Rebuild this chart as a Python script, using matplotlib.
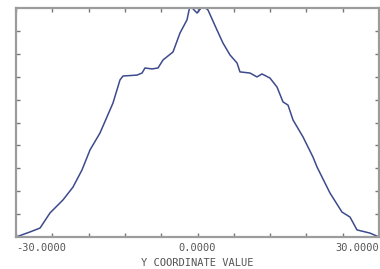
import matplotlib
matplotlib.use("Agg")
import matplotlib.pyplot as plt
import numpy as np

# Data (x: Y coordinate value, y: normalised intensity)
x_vals = [-30.0, -27.69, -26.03, -24.38, -22.23, -20.58, -19.09, -17.77, -16.12, -13.97,
          -12.81, -12.31, -10.0, -9.17, -8.68, -7.52, -6.53, -5.70, -4.05, -2.89,
          -1.74, -1.24, -0.08, 0.91, 1.74, 3.22, 4.21, 5.37, 6.53, 7.02,
          8.68, 9.83, 10.66, 11.98, 13.14, 14.13, 14.96, 15.79, 17.44, 19.09,
          19.75, 21.90, 23.88, 25.21, 26.36, 28.51, 30.0]
y_vals = [0.0, 0.022, 0.039, 0.105, 0.162, 0.218, 0.293, 0.380, 0.454, 0.585,
          0.686, 0.703, 0.707, 0.716, 0.738, 0.734, 0.738, 0.773, 0.808, 0.891,
          0.948, 1.01, 0.978, 1.01, 0.991, 0.904, 0.847, 0.795, 0.760, 0.721,
          0.716, 0.699, 0.712, 0.694, 0.655, 0.590, 0.576, 0.511, 0.437, 0.349,
          0.306, 0.192, 0.109, 0.087, 0.031, 0.017, 0.0]

major_ticks = [-30, 0, 30]
major_labels = ["-30.0000", "0.0000", "30.0000"]
minor_ticks = [-24, -18, -12, -6, 6, 12, 18, 24]
y_ticks = [0.1, 0.2, 0.3, 0.4, 0.5, 0.6, 0.7, 0.8, 0.9]
x_label = "Y COORDINATE VALUE"

fig = plt.figure(figsize=(3.8, 2.69), dpi=100)
ax = fig.add_axes([16 / 380, 32 / 269, 363 / 380, 229 / 269])

ax.plot(x_vals, y_vals, color="#3d4a8c", lw=1.1)
ax.set_xlim(-30, 30)
ax.set_ylim(0, 1)

spine_col = "#9c9c9c"
for s in ax.spines.values():
    s.set_color(spine_col)
    s.set_linewidth(1.6)

ax.set_xticks(major_ticks)
ax.set_xticklabels(major_labels, family="DejaVu Sans Mono", fontsize=7.5, color="#555555")
ax.set_xticks(minor_ticks, minor=True)
ax.set_yticks(y_ticks)
ax.set_yticklabels([])
ax.tick_params(axis="both", which="both", direction="in", length=3, width=1,
               color="#777777", top=True, right=True, pad=4)
for lab, ha in zip(ax.get_xticklabels(), ["left", "center", "right"]):
    lab.set_horizontalalignment(ha)

ax.set_xlabel(x_label, family="DejaVu Sans Mono", fontsize=7.5, color="#555555", labelpad=4)

fig.savefig("out.png", dpi=100)
